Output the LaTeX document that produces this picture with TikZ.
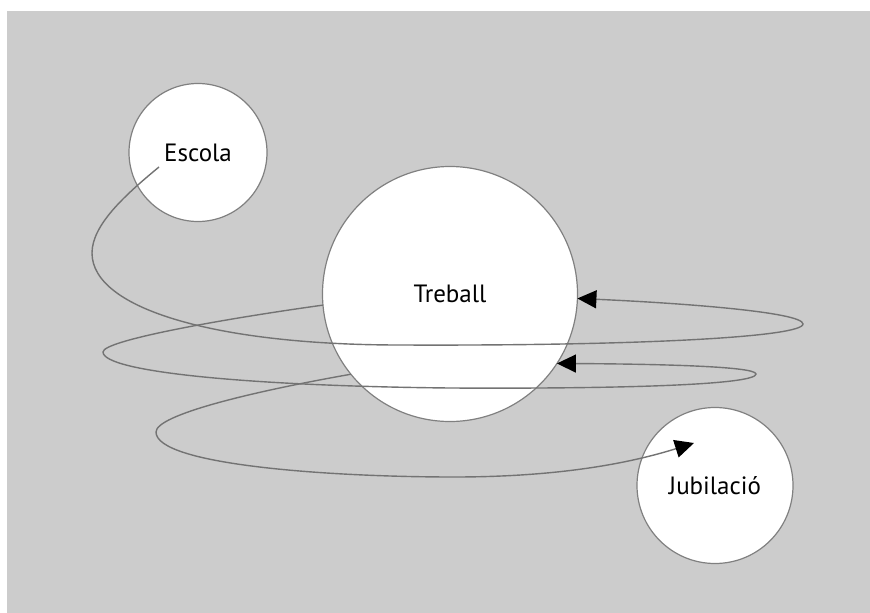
\documentclass[tikz,border=0pt]{standalone}
\usepackage{fontspec}
\setmainfont{PT Sans}
\usetikzlibrary{arrows.meta}
\usetikzlibrary{calc}

\begin{document}
\begin{tikzpicture}[x=1pt,y=-1pt,
  etapa/.style={circle,draw=CircleGray,fill=white,line width=1.2pt,inner sep=0pt,outer sep=0pt,
    font=\fontsize{25}{30}\selectfont},
  cami/.style={draw=LineGray,line width=1.4pt},
  fletxa/.style={cami,-{Triangle[length=19pt,width=18pt,color=black]}}]
\definecolor{BackGray}{gray}{0.8}
\definecolor{CircleGray}{gray}{0.5}
\definecolor{LineGray}{gray}{0.45}

\useasboundingbox (0,0) rectangle (870,613);
\fill[BackGray] (7,11) rectangle (870,613);

% les tres etapes
\node[etapa,minimum size=138pt] (Escola) at (198,152.5) {Escola};
\node[etapa,minimum size=255pt] (Treball) at (450,294) {Treball};
\node[etapa,minimum size=156pt] (Jubilacio) at (715,485.5) {Jubilació};

\coordinate (inici) at ($(Escola)+(-39,14.5)$);
\coordinate (final) at ($(Jubilacio)+(-21,-42.5)$);

% primer bucle
\draw[fletxa] (inici) .. controls (125,195) and (92,225) .. (92,253)
  .. controls (92,310) and (220,345) .. (400,345)
  .. controls (640,346) and (803,337) .. (803,324)
  .. controls (803,312) and (680,303) .. (Treball.-2);

% segon bucle
\draw[fletxa] (Treball.185) .. controls (230,318) and (103,340) .. (103,352)
  .. controls (103,372) and (250,386) .. (450,388)
  .. controls (640,389) and (756,384) .. (756,374)
  .. controls (756,366) and (650,364) .. (Treball.-33);

% cap a la jubilacio
\draw[fletxa] (Treball.219) .. controls (250,392) and (156,415) .. (156,432)
  .. controls (156,465) and (330,477) .. (454,477)
  .. controls (570,477) and (640,460) .. (final);

\end{tikzpicture}
\end{document}
